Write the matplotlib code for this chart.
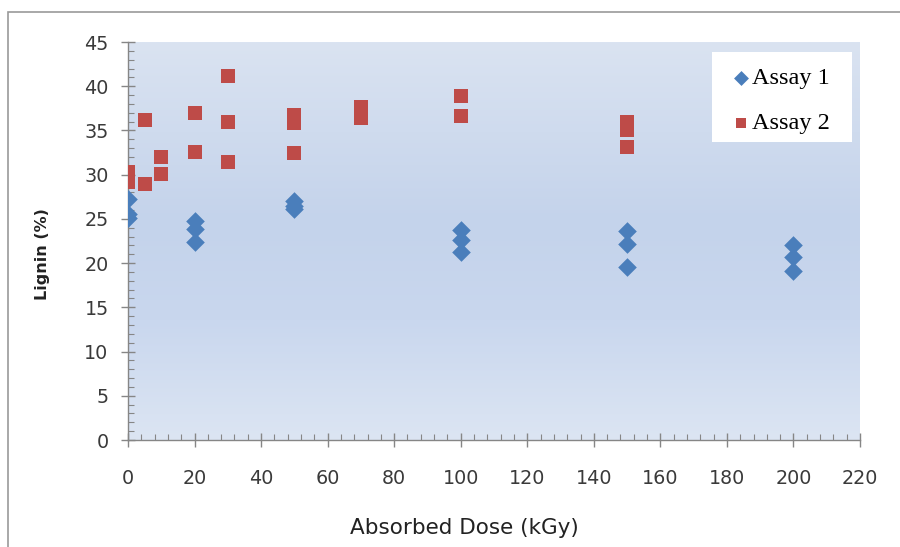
import numpy as np
import matplotlib.pyplot as plt
from matplotlib.colors import LinearSegmentedColormap
from matplotlib.ticker import MultipleLocator
from matplotlib.patches import Rectangle

# Assay 1 (blue diamonds)
dose1 = [0, 0, 0, 20, 20, 20, 50, 50, 50, 100, 100, 100, 150, 150, 150, 200, 200, 200]
lignin1 = [27.3, 25.5, 25.1, 24.8, 23.9, 22.4, 27.0, 26.5, 26.1,
           23.7, 22.6, 21.2, 23.6, 22.2, 19.6, 22.1, 20.7, 19.1]

# Assay 2 (red squares)
dose2 = [0, 0, 5, 5, 10, 10, 20, 20, 30, 30, 30, 50, 50, 50, 70, 70, 100, 100, 150, 150, 150]
lignin2 = [30.3, 29.2, 36.2, 28.9, 32.0, 30.1, 37.0, 32.6, 41.1, 36.0, 31.4,
           36.7, 35.8, 32.4, 37.6, 36.4, 38.9, 36.6, 36.0, 35.0, 33.1]

fig = plt.figure(figsize=(9, 5.47), dpi=100)
fig.patch.set_facecolor('white')
# outer chart border
fig.patches.append(Rectangle((8 / 900, -0.05), 1.1, 1 - 12 / 547 + 0.05,
                             transform=fig.transFigure, fill=False,
                             edgecolor='#9a9a9a', lw=1.2))

ax = fig.add_axes([128 / 900, 107 / 547, 732 / 900, 398 / 547])

# gradient background
cmap = LinearSegmentedColormap.from_list('bg', [(0, '#dae3f1'), (0.45, '#c4d3eb'),
                                                (0.7, '#c9d7ee'), (1, '#dce5f3')])
grad = np.linspace(0, 1, 256).reshape(-1, 1)
ax.imshow(grad, cmap=cmap, aspect='auto', extent=[0, 1, 0, 1],
          transform=ax.transAxes, zorder=0)

ax.scatter(dose1, lignin1, marker='D', s=90, color='#4a7ebb', label='Assay 1', zorder=3, linewidths=0)
ax.scatter(dose2, lignin2, marker='s', s=90, color='#be4b48', label='Assay 2', zorder=3, linewidths=0)

ax.set_xlim(0, 220)
ax.set_ylim(0, 45)
ax.xaxis.set_major_locator(MultipleLocator(20))
ax.xaxis.set_minor_locator(MultipleLocator(4))
ax.yaxis.set_major_locator(MultipleLocator(5))
ax.yaxis.set_minor_locator(MultipleLocator(1))

for s in ['top', 'right']:
    ax.spines[s].set_visible(False)
for s in ['left', 'bottom']:
    ax.spines[s].set_color('#868686')
    ax.spines[s].set_linewidth(1)

ax.tick_params(which='major', direction='inout', length=10, color='#868686', width=1,
               labelsize=13.8, labelcolor='#3a3a3a')
ax.tick_params(which='minor', direction='in', length=4, color='#868686', width=0.8)
ax.tick_params(axis='y', which='major', pad=9)
ax.tick_params(axis='x', which='major', pad=16)

ax.set_xlabel('Absorbed Dose (kGy)', fontsize=15.5, color='#222222')
ax.xaxis.set_label_coords(0.459, -0.196)
ax.set_ylabel('Lignin (%)', fontsize=11.5, fontweight='bold', color='#222222')
ax.yaxis.set_label_coords(-0.107, 0.467)

# legend: white box behind a frameless legend
ax.add_patch(Rectangle((0.798, 0.749), 0.191, 0.226, transform=ax.transAxes,
                       facecolor='white', edgecolor='none', zorder=4))
leg = ax.legend(loc='upper left', bbox_to_anchor=(0.828, 0.937), frameon=False,
                prop={'family': 'Liberation Serif', 'size': 17.5},
                handletextpad=0.16, borderpad=0, labelspacing=0.95,
                handlelength=0.58, markerscale=0.8, borderaxespad=0)
leg.set_zorder(5)

fig.savefig('out.png', dpi=100)
